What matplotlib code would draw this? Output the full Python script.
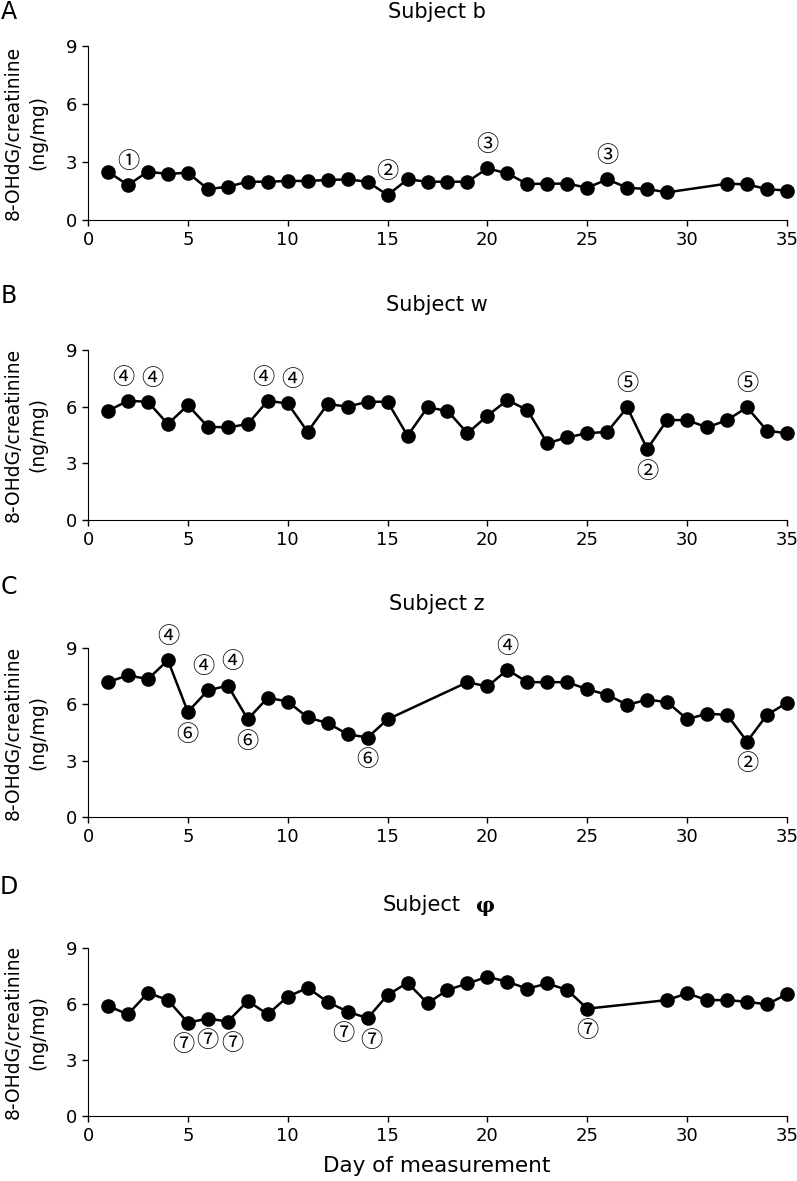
import numpy as np
import matplotlib
matplotlib.use('Agg')
import matplotlib.pyplot as plt

plt.rcParams['font.family'] = ['DejaVu Sans', 'Noto Sans CJK JP']

# Subject b
days_b = [1, 2, 3, 4, 5, 6, 7, 8, 9, 10, 11, 12, 13, 14, 15, 16, 17, 18, 19, 20,
          21, 22, 23, 24, 25, 26, 27, 28, 29, 32, 33, 34, 35]
vals_b = [2.50, 1.81, 2.50, 2.38, 2.45, 1.60, 1.72, 1.98, 1.98, 2.02, 2.02, 2.07,
          2.10, 1.98, 1.29, 2.10, 1.98, 1.98, 1.98, 2.67, 2.41, 1.86, 1.88, 1.88,
          1.67, 2.10, 1.67, 1.60, 1.43, 1.88, 1.84, 1.60, 1.52]
notes_b = [(2, '①', 'up'), (15, '②', 'up'), (20, '③', 'up'), (26, '③', 'up')]

# Subject w
days_w = list(range(1, 36))
vals_w = [5.78, 6.31, 6.26, 5.08, 6.08, 4.94, 4.90, 5.08, 6.31, 6.17, 4.67, 6.14,
          6.00, 6.26, 6.26, 4.46, 5.96, 5.78, 4.59, 5.52, 6.35, 5.82, 4.06, 4.38,
          4.59, 4.67, 5.96, 3.76, 5.29, 5.29, 4.90, 5.29, 5.96, 4.73, 4.59]
notes_w = [(2, '④', 'up'), (3, '④', 'up'), (9, '④', 'up'), (10, '④', 'up'),
           (27, '⑤', 'up'), (28, '②', 'down'), (33, '⑤', 'up')]

# Subject z
days_z = [1, 2, 3, 4, 5, 6, 7, 8, 9, 10, 11, 12, 13, 14, 15, 19, 20, 21, 22, 23,
          24, 25, 26, 27, 28, 29, 30, 31, 32, 33, 34, 35]
vals_z = [7.18, 7.55, 7.34, 8.35, 5.60, 6.74, 7.00, 5.21, 6.35, 6.15, 5.30, 5.00,
          4.41, 4.23, 5.20, 7.18, 6.95, 7.84, 7.18, 7.18, 7.18, 6.80, 6.51, 5.97,
          6.25, 6.12, 5.21, 5.50, 5.44, 4.02, 5.44, 6.08]
notes_z = [(4, '④', 'up'), (5, '⑥', 'down'), (6, '④', 'up'), (7, '④', 'up'),
           (8, '⑥', 'down'), (14, '⑥', 'down'), (21, '④', 'up'), (33, '②', 'down')]

# Subject phi
days_p = [1, 2, 3, 4, 5, 6, 7, 8, 9, 10, 11, 12, 13, 14, 15, 16, 17, 18, 19, 20,
          21, 22, 23, 24, 25, 29, 30, 31, 32, 33, 34, 35]
vals_p = [5.89, 5.45, 6.60, 6.21, 5.00, 5.22, 5.06, 6.16, 5.45, 6.39, 6.87, 6.11,
          5.59, 5.24, 6.48, 7.14, 6.04, 6.75, 7.10, 7.46, 7.19, 6.82, 7.10, 6.75,
          5.75, 6.21, 6.57, 6.21, 6.21, 6.12, 5.98, 6.53]
notes_p = [(5, '⑦', 'down'), (6, '⑦', 'down'), (7, '⑦', 'down'), (13, '⑦', 'down'),
           (14, '⑦', 'down'), (25, '⑦', 'down')]

# letter, title, data, notes, axis top/bottom (px), title y, letter y
panels = [('A', 'Subject b', days_b, vals_b, notes_b, 46, 220, 12, 12),
          ('B', 'Subject w', days_w, vals_w, notes_w, 350, 520, 305, 296),
          ('C', 'Subject z', days_z, vals_z, notes_z, 648, 817, 604, 587),
          ('D', 'Subject', days_p, vals_p, notes_p, 948, 1116, 905, 887)]

W, H = 797, 1181
fig = plt.figure(figsize=(W / 100, H / 100), dpi=100)

for letter, title, days, vals, notes, top, bottom, ty, ly in panels:
    ax = fig.add_axes([88 / W, 1 - bottom / H, 699 / W, (bottom - top) / H])
    ax.plot(days, vals, color='black', lw=1.8, marker='o', ms=9.5,
            clip_on=False, zorder=3)
    ax.set_xlim(0, 35)
    ax.set_ylim(0, 9)
    ax.set_xticks(np.arange(0, 36, 5))
    ax.set_yticks([0, 3, 6, 9])
    ax.tick_params(labelsize=13, length=4, width=1, direction='out', pad=4)
    for s in ['top', 'right']:
        ax.spines[s].set_visible(False)
    ax.set_ylabel('8-OHdG/creatinine\n(ng/mg)', fontsize=13.5, linespacing=1.4)
    ax.yaxis.set_label_coords(-0.058, 0.5)

    lookup = dict(zip(days, vals))
    sides = {(d, w) for d, _, w in notes}
    for d, sym, where in notes:
        dy = 17 if where == 'up' else -16
        # push neighbouring labels apart a little
        dx = 0
        if (d - 1, where) in sides:
            dx += 3
        if (d + 1, where) in sides:
            dx -= 3
        ax.annotate(sym, (d, lookup[d]), xytext=(dx, dy), textcoords='offset points',
                    ha='center', va='center', fontsize=16, annotation_clip=False,
                    family='Noto Sans CJK JP')

    fig.text(9 / W, 1 - ly / H, letter, fontsize=17, ha='center', va='center')
    if letter == 'D':
        fig.text(461 / W, 1 - ty / H, title, fontsize=15, ha='right', va='center')
        fig.text(476 / W, 1 - (ty + 1) / H, 'φ', fontsize=15, ha='left', va='center',
                 family='DejaVu Serif', fontweight='bold')
    else:
        fig.text(437 / W, 1 - ty / H, title, fontsize=15, ha='center', va='center')

fig.text(437 / W, 1 - 1166 / H, 'Day of measurement', fontsize=15.5,
         ha='center', va='center')

plt.savefig('out.png', dpi=100)
